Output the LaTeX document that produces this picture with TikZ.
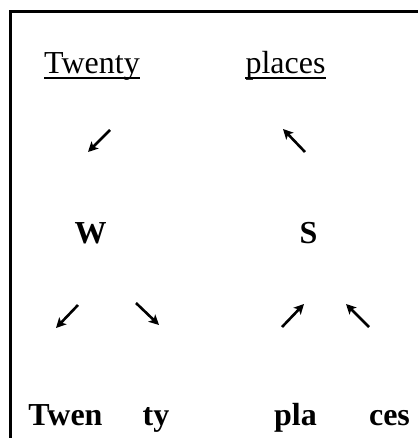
\documentclass[tikz,border=0pt]{standalone}
\usepackage{fontspec}
\setmainfont{Liberation Serif}
\usetikzlibrary{arrows.meta,calc}
\begin{document}
\begin{tikzpicture}[x=1pt,y=-1pt,
  word/.style={inner sep=0pt,anchor=base,font=\fontsize{32}{38}\selectfont},
  bword/.style={word,font=\fontsize{32}{38}\selectfont\bfseries},
  arr/.style={line width=2.6pt,-{Stealth[length=10pt,width=10pt,inset=2.5pt]}},
  uline/.style={line width=2pt},
  frame/.style={line width=3pt}]
\useasboundingbox (0,0) rectangle (417,438);
% frame
\coordinate (fb) at (10,440);
\coordinate (fc) at (10,12);
\coordinate (fr) at (419,12);
\draw[frame] (fb) -- (fc) -- (fr);
% top words
\node[word] (tw) at (92,74) {Twenty};
\node[word] (pl) at (285.5,74) {places};
\draw[uline] ($(tw.base west)+(0,4)$) -- ($(tw.base east)+(0,4)$);
\draw[uline] ($(pl.base west)+(0,4)$) -- ($(pl.base east)+(0,4)$);
% middle letters
\node[bword] (w) at (90.5,243) {W};
\node[bword] (s) at (308.5,243) {S};
% bottom words
\node[bword] (twen) at (65.5,425) {Twen};
\node[bword] (ty) at (156,425) {ty};
\node[bword] (pla) at (295.5,425) {pla};
\node[bword] (ces) at (389.5,425) {ces};
% arrows
\coordinate (a1s) at (110,130); \coordinate (a1e) at (88,152);
\coordinate (a2s) at (305,152); \coordinate (a2e) at (283,129);
\coordinate (a3s) at (78,305);  \coordinate (a3e) at (56,328);
\coordinate (a4s) at (136,303); \coordinate (a4e) at (159,325);
\coordinate (a5s) at (282,327); \coordinate (a5e) at (304,304);
\coordinate (a6s) at (369,327); \coordinate (a6e) at (346,304);
\draw[arr] (a1s) -- (a1e);
\draw[arr] (a2s) -- (a2e);
\draw[arr] (a3s) -- (a3e);
\draw[arr] (a4s) -- (a4e);
\draw[arr] (a5s) -- (a5e);
\draw[arr] (a6s) -- (a6e);
\end{tikzpicture}
\end{document}
